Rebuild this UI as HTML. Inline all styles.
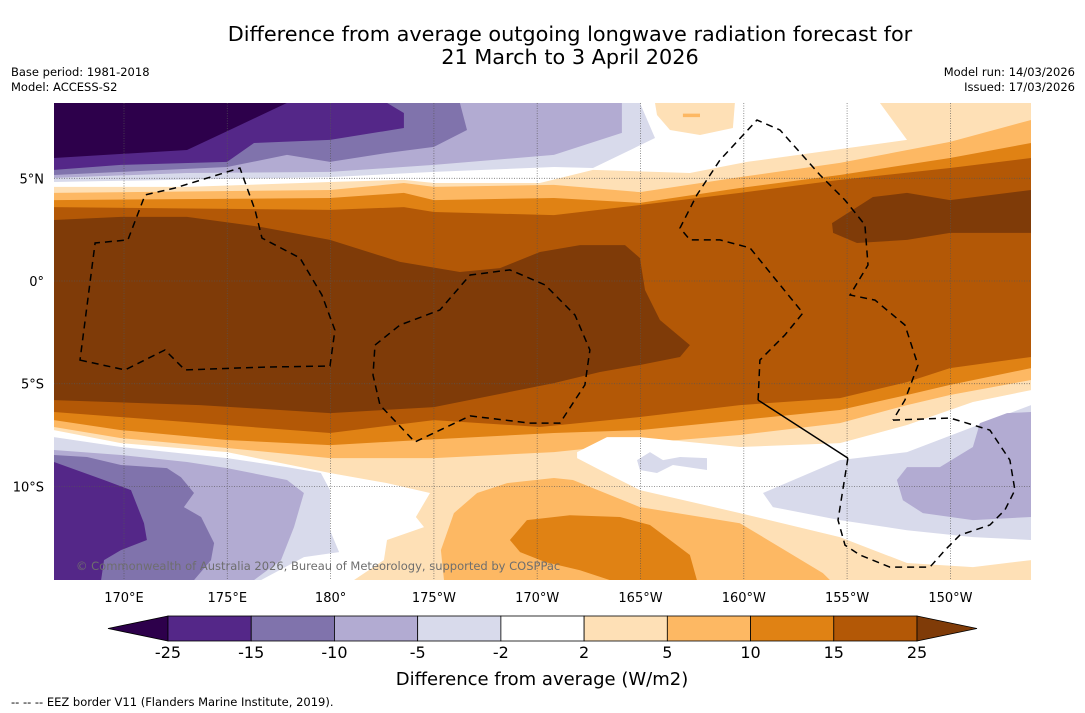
<!DOCTYPE html>
<html><head><meta charset="utf-8">
<style>
html,body{margin:0;padding:0;background:#fff;}
svg{display:block;font-family:"DejaVu Sans","Liberation Sans",sans-serif;}
</style></head>
<body>
<svg id="chart" width="1085" height="713" viewBox="0 0 1085 713">
  <text x="570" y="41" text-anchor="middle" font-size="20.8" fill="#000">Difference from average outgoing longwave radiation forecast for</text>
  <text x="570" y="64" text-anchor="middle" font-size="20.8" fill="#000">21 March to 3 April 2026</text>
  <text x="11" y="76" font-size="11.5">Base period: 1981-2018</text>
  <text x="11" y="91" font-size="11.5">Model: ACCESS-S2</text>
  <text x="1075" y="76" font-size="11.5" text-anchor="end">Model run: 14/03/2026</text>
  <text x="1075" y="91" font-size="11.5" text-anchor="end">Issued: 17/03/2026</text>
  <defs><clipPath id="plotclip"><rect x="54" y="103" width="977" height="477"/></clipPath></defs>
  <g id="plot" clip-path="url(#plotclip)"></g>
  <g id="axes"></g>
  <g id="cbar"></g>
  <text x="542" y="685" text-anchor="middle" font-size="18">Difference from average (W/m2)</text>
  <text x="11" y="706" font-size="11.5">--  --  -- EEZ border V11 (Flanders Marine Institute, 2019).</text>
</svg>
<script>
// ---- data ----
const colorLevels = [-25,-15,-10,-5,-2,2,5,10,15,25];
const bandColors = ["#2d004b","#542788","#8073ac","#b2abd2","#d8daeb","#ffffff","#fee0b6","#fdb863","#e08214","#b35806","#7f3b08"];
const lonTicks = [170,175,180,185,190,195,200,205,210];
const lonTickLabels = ["170°E","175°E","180°","175°W","170°W","165°W","160°W","155°W","150°W"];
const latTicks = [5,0,-5,-10];
const latTickLabels = ["5°N","0°","5°S","10°S"];
// contour regions: [colour band index, [lon,lat] vertices]
const topWhite = [5,[[166.61,8.67],[206.59,8.67],[207.9,6.87],[200.15,5.80],[197.39,5.26],[192.7,5.41],[190.13,4.77],[185.0,4.77],[183.55,4.92],[179.97,4.82],[173.05,4.58],[166.61,4.58]]];
const topBlob = [6,[[195.7,8.67],[199.57,8.67],[199.47,7.45],[197.88,7.11],[196.43,7.35],[195.8,8.08]]];
const topDash = [7,[[197.05,8.15],[197.88,8.15],[197.88,7.98],[197.05,7.98]]];
const topD8 = [4,[[166.61,8.67],[194.97,8.67],[195.7,6.96],[192.7,5.50],[190.81,5.55],[185.0,5.31],[179.97,5.06],[166.61,4.82]]];
const topB2 = [3,[[166.61,8.67],[194.1,8.67],[194.1,7.21],[190.81,6.14],[185.0,5.65],[179.97,5.31],[173.05,5.26],[166.61,5.02]]];
const top80 = [2,[[166.61,8.67],[186.26,8.67],[186.6,7.35],[185.0,6.53],[182.73,6.23],[179.97,5.80],[177.89,6.14],[174.99,5.55],[169.85,5.31],[166.61,5.16]]];
const top54 = [1,[[166.61,8.67],[182.73,8.67],[183.55,8.18],[183.55,7.45],[179.97,6.87],[176.29,6.72],[174.99,5.80],[169.85,5.65],[166.61,5.41]]];
const top2d = [0,[[166.61,8.67],[177.89,8.67],[175.32,7.45],[173.05,6.38],[166.61,5.99]]];
const bandFd = [7,[[166.61,4.29],[179.97,4.43],[183.55,4.77],[185.0,4.58],[190.81,4.68],[194.97,4.33],[199.81,5.06],[204.65,5.75],[209.98,6.77],[213.9,7.84],[213.9,-4.82],[209.98,-5.55],[207.9,-6.04],[204.65,-6.92],[199.81,-7.50],[194.97,-7.89],[190.81,-8.33],[185.0,-8.62],[179.97,-8.62],[174.99,-8.13],[169.85,-7.65],[166.61,-7.11]]];
const bandE0 = [8,[[166.61,3.94],[179.97,4.04],[183.55,4.29],[185.0,3.94],[190.81,4.04],[194.97,3.80],[199.81,4.53],[204.65,5.16],[209.98,5.99],[213.9,6.72],[213.9,-4.24],[209.98,-5.06],[207.9,-5.55],[204.65,-6.28],[199.81,-6.77],[194.97,-7.26],[190.81,-7.40],[184.37,-7.74],[179.97,-7.99],[174.99,-7.74],[169.85,-7.26],[166.61,-6.77]]];
const bandB3 = [9,[[166.61,3.60],[179.97,3.46],[183.55,3.60],[185.0,3.36],[190.81,3.21],[194.97,3.70],[199.81,4.29],[204.65,4.92],[209.98,5.50],[213.9,5.99],[213.9,-3.70],[209.98,-4.24],[207.9,-4.92],[204.65,-5.70],[199.81,-6.04],[194.97,-6.62],[190.13,-7.11],[185.0,-6.77],[179.97,-7.40],[166.61,-6.38]]];
const core7f = [10,[[166.61,2.97],[169.85,3.12],[173.05,3.12],[176.63,2.63],[179.97,2.0],[183.36,0.93],[186.26,0.44],[188.2,0.63],[190.13,1.41],[192.07,1.75],[194.25,1.75],[194.97,1.12],[195.22,-0.44],[195.94,-1.90],[197.39,-3.12],[196.91,-3.70],[194.97,-4.09],[193.04,-4.43],[190.81,-4.97],[185.0,-6.14],[179.97,-6.43],[173.68,-6.04],[166.61,-5.80]]];
const east7f = [10,[[204.27,2.82],[206.25,4.09],[207.9,4.29],[209.98,3.94],[213.9,4.43],[213.9,2.34],[209.98,2.34],[207.9,2.0],[205.48,1.85],[204.32,2.34]]];
const eastWhite = [5,[[191.93,-8.33],[193.38,-7.60],[194.97,-7.60],[199.81,-8.08],[204.65,-7.89],[207.9,-7.01],[211.09,-5.89],[213.9,-5.31],[213.9,-13.59],[211.09,-13.93],[207.9,-13.73],[204.65,-12.47],[199.81,-11.30],[194.97,-10.18],[193.04,-9.20],[191.93,-8.62]]];
const smallD8 = [4,[[194.83,-8.72],[195.46,-8.33],[196.09,-8.72],[196.91,-8.57],[198.22,-8.62],[198.22,-9.20],[196.57,-8.96],[195.8,-9.35],[194.97,-9.20]]];
const eastD8 = [4,[[200.93,-10.32],[204.65,-8.72],[207.9,-8.33],[211.09,-7.11],[213.9,-6.04],[213.9,-12.61],[211.09,-12.47],[207.9,-12.13],[204.65,-11.64],[201.41,-11.01]]];
const eastB2 = [3,[[207.41,-9.69],[207.9,-9.06],[209.49,-9.06],[211.09,-8.08],[211.43,-6.92],[212.74,-6.43],[213.9,-6.38],[213.9,-11.49],[211.09,-11.64],[208.67,-11.30],[207.7,-10.67]]];
const westWhite = [5,[[166.61,-7.26],[169.85,-7.89],[174.99,-8.33],[179.97,-9.35],[182.73,-9.84],[184.81,-10.32],[184.13,-11.49],[184.52,-11.98],[182.73,-12.61],[182.58,-13.59],[181.13,-14.56],[166.61,-14.56]]];
const westD8 = [4,[[166.61,-7.60],[169.85,-8.08],[174.99,-8.62],[177.89,-9.06],[179.53,-9.35],[179.97,-10.18],[179.97,-12.13],[180.41,-13.20],[178.71,-13.44],[176.63,-14.56],[166.61,-14.56]]];
const westB2 = [3,[[166.61,-8.23],[169.85,-8.47],[173.05,-8.81],[174.99,-9.11],[177.89,-9.69],[178.71,-10.32],[178.23,-11.98],[177.6,-13.59],[176.29,-14.56],[166.61,-14.56]]];
const west80 = [2,[[166.61,-8.47],[168.21,-8.57],[169.85,-8.96],[172.08,-9.11],[172.76,-9.55],[173.39,-10.32],[172.9,-11.01],[173.73,-11.49],[174.36,-12.76],[174.21,-13.59],[173.39,-14.56],[166.61,-14.56]]];
const west54 = [1,[[166.61,-8.81],[169.03,-9.69],[170.34,-10.18],[170.97,-11.79],[171.11,-12.61],[169.85,-13.10],[169.03,-13.59],[168.89,-14.56],[166.61,-14.56]]];
const southFd = [7,[[187.09,-10.32],[188.54,-9.84],[190.81,-9.59],[191.73,-9.69],[194.97,-11.01],[199.81,-11.79],[202.23,-13.25],[203.83,-14.22],[204.17,-14.56],[185.49,-14.56],[185.34,-13.10],[185.97,-11.30]]];
const southE0 = [8,[[189.5,-11.64],[191.58,-11.40],[194.01,-11.49],[195.46,-11.88],[196.43,-12.61],[197.39,-13.34],[197.73,-14.56],[193.52,-14.56],[192.07,-14.08],[190.38,-13.68],[189.17,-13.20],[188.68,-12.61]]];
const regions = [topWhite,topBlob,topDash,topD8,topB2,top80,top54,top2d,bandFd,bandE0,bandB3,core7f,east7f,eastWhite,smallD8,eastD8,eastB2,westWhite,westD8,westB2,west80,west54,southFd,southE0];
const regionNames = ["white-north","light-orange-north-blob","orange-north-streak","lilac-north","lavender-north","purple-north","deep-purple-north","darkest-purple-north","orange-band","dark-orange-band","brown-band","darkest-brown-core","darkest-brown-east","white-southeast","lilac-small-patch","lilac-southeast","lavender-southeast","white-southwest","lilac-southwest","lavender-southwest","purple-southwest","deep-purple-southwest","orange-south","dark-orange-south"];
const eezClosed = [
 [[167.87,-3.85],[170.05,-4.33],[171.98,-3.36],[172.95,-4.33],[176.82,-4.19],[179.97,-4.14],[180.21,-2.39],[179.58,-0.68],[178.52,1.12],[176.68,2.09],[176.34,3.46],[175.61,5.50],[172.47,4.53],[171.02,4.19],[170.19,2.0],[168.6,1.85]],
 [[182.15,-3.12],[183.36,-2.14],[185.29,-1.41],[186.75,0.29],[188.68,0.54],[190.38,-0.19],[191.83,-1.66],[192.55,-3.36],[192.31,-5.06],[191.1,-6.92],[189.65,-6.92],[186.75,-6.57],[184.08,-7.84],[182.39,-6.04],[182.05,-4.58]]
];
const eezOpen = [
 [[200.69,-5.80],[200.78,-3.85],[201.99,-2.63],[202.86,-1.56],[201.75,-0.19],[200.3,1.61],[198.85,2.0],[197.39,2.0],[196.91,2.58],[197.73,4.19],[198.85,5.89],[200.64,7.84],[201.75,7.35],[203.69,5.16],[204.9,3.94],[205.86,2.73],[206.01,0.78],[205.14,-0.68],[206.35,-0.93],[207.8,-2.14],[208.43,-4.09],[207.8,-5.80],[207.22,-6.77]],
 [[207.22,-6.77],[209.98,-6.67],[211.91,-7.26],[212.88,-8.72],[213.12,-10.18],[212.64,-11.15],[211.91,-11.88],[210.46,-12.37],[209.74,-13.10],[209.01,-13.93],[207.07,-13.93],[205.62,-13.34],[204.9,-12.86],[204.56,-11.64],[205.04,-8.62]]
];
const eezSolid = [[200.69,-5.80],[205.04,-8.62]];

// ---- scales ----
const X = lon => 124 + (lon - 170) * 20.66;
const Y = lat => 281 - lat * 20.54;
const NS = "http://www.w3.org/2000/svg";
function mk(tag, attrs, parent){ const e=document.createElementNS(NS,tag); for(const k in attrs) e.setAttribute(k,attrs[k]); parent.appendChild(e); return e; }
const pts = arr => arr.map(p => X(p[0]).toFixed(1)+","+Y(p[1]).toFixed(1)).join(" ");

const plot = document.getElementById("plot");
const base = mk("rect",{x:54,y:103,width:977,height:477,fill:bandColors[6]},plot);


regions.forEach((r,i)=>{
  const p = mk("polygon",{points:pts(r[1]),fill:bandColors[r[0]]},plot);
  
  
});
// gridlines
lonTicks.forEach(l=>{
  const g = mk("line",{x1:X(l),x2:X(l),y1:103,y2:580,stroke:"#555","stroke-width":0.8,"stroke-dasharray":"1,1.5","stroke-opacity":0.8},plot);
  
  
});
latTicks.forEach(l=>{
  const g = mk("line",{x1:54,x2:1031,y1:Y(l),y2:Y(l),stroke:"#555","stroke-width":0.8,"stroke-dasharray":"1,1.5","stroke-opacity":0.8},plot);
  
  
});
// EEZ
eezClosed.forEach(a=>{
  const e = mk("polygon",{points:pts(a),fill:"none",stroke:"#000","stroke-width":1.5,"stroke-dasharray":"7,5"},plot);
  
  
});
eezOpen.forEach(a=>{
  const e = mk("polyline",{points:pts(a),fill:"none",stroke:"#000","stroke-width":1.5,"stroke-dasharray":"7,5"},plot);
  
  
});
const sol = mk("polyline",{points:pts(eezSolid),fill:"none",stroke:"#000","stroke-width":1.5},plot);


const wm = mk("text",{x:76,y:570,"font-size":11.5,fill:"#6e6e6e"},plot);
wm.textContent = "© Commonwealth of Australia 2026, Bureau of Meteorology, supported by COSPPac";



// axes labels
const axes = document.getElementById("axes");
lonTicks.forEach((l,i)=>{
  const t = mk("text",{x:X(l),y:602,"text-anchor":"middle","font-size":13},axes);
  t.textContent = lonTickLabels[i];
  
  
});
latTicks.forEach((l,i)=>{
  const t = mk("text",{x:44,y:Y(l)+5,"text-anchor":"end","font-size":13},axes);
  t.textContent = latTickLabels[i];
  
  
});

// colorbar
const cb = document.getElementById("cbar");
const cbX0 = 168, cbX1 = 917, cbY = 616, cbH = 25, cbTri = 60;
const nBox = colorLevels.length - 1;
const bw = (cbX1 - cbX0) / nBox;
const lt = mk("polygon",{points:`${cbX0},${cbY} ${cbX0-cbTri},${cbY+cbH/2} ${cbX0},${cbY+cbH}`,fill:bandColors[0],stroke:"#000","stroke-width":0.8},cb);


for(let i=0;i<nBox;i++){
  const r = mk("rect",{x:cbX0+i*bw,y:cbY,width:bw,height:cbH,fill:bandColors[i+1],stroke:"#000","stroke-width":0.8},cb);
  
  
}
const rt = mk("polygon",{points:`${cbX1},${cbY} ${cbX1+cbTri},${cbY+cbH/2} ${cbX1},${cbY+cbH}`,fill:bandColors[10],stroke:"#000","stroke-width":0.8},cb);


colorLevels.forEach((v,i)=>{
  const t = mk("text",{x:cbX0+i*bw,y:658,"text-anchor":"middle","font-size":16},cb);
  t.textContent = String(v);
  
  
});
</script>
</body></html>
